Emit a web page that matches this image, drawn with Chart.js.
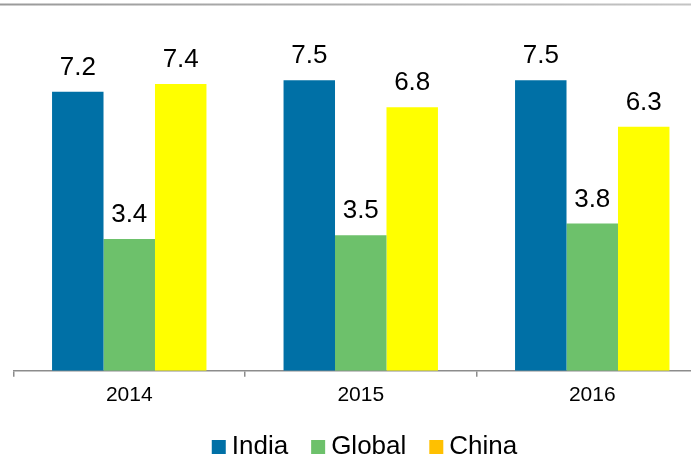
<!DOCTYPE html>
<html>
<head>
<meta charset="utf-8">
<script src="https://cdn.jsdelivr.net/npm/chart.js@4"></script>
<style>
  html, body { margin: 0; padding: 0; background: #fff; overflow: hidden; }
  #wrap { position: relative; width: 710px; height: 462px; }
</style>
</head>
<body>
<div id="wrap"><canvas id="myChart" width="710" height="462"></canvas></div>
<script>
// données
const years = ['2014', '2015', '2016'];
const india = [7.2, 7.5, 7.5];
const global = [3.4, 3.5, 3.8];
const china = [7.4, 6.8, 6.3];

// couleurs
const colIndia = '#0070A6';
const colGlobal = '#6DC16B';
const colChina = '#FFFF00';
const colChinaLegend = '#FFC000';

const fontFam = '"Liberation Sans", Arial, sans-serif';

// ligne grise en haut, valeurs au-dessus des barres, légende
const extras = {
    id: 'extras',
    afterDraw(chart) {
        const ctx = chart.ctx;
        ctx.save();
        const grad = ctx.createLinearGradient(0, 0, 691, 0);
        grad.addColorStop(0, '#9a9a9a');
        grad.addColorStop(1, '#c4c4c4');
        ctx.strokeStyle = grad;
        ctx.lineWidth = 2;
        ctx.beginPath();
        ctx.moveTo(0, 4.5);
        ctx.lineTo(chart.width, 4.5);
        ctx.stroke();

        // valeurs
        ctx.fillStyle = '#000';
        ctx.font = '26px ' + fontFam;
        ctx.textAlign = 'center';
        ctx.textBaseline = 'alphabetic';
        chart.data.datasets.forEach((ds, i) => {
            chart.getDatasetMeta(i).data.forEach((bar, j) => {
                ctx.fillText(ds.data[j].toFixed(1), bar.x, bar.y - 17);
            });
        });

        // légende
        const box = 14, gapTxt = 6, gapItem = 23;
        const items = chart.data.datasets.map(ds => ({
            text: ds.label,
            color: ds.label === 'China' ? colChinaLegend : ds.backgroundColor
        }));
        let total = 0;
        items.forEach((it, k) => {
            it.w = ctx.measureText(it.text).width;
            total += box + gapTxt + it.w + (k ? gapItem : 0);
        });
        let x = 364.5 - total / 2;
        const yMid = 447;
        ctx.textAlign = 'left';
        ctx.textBaseline = 'middle';
        items.forEach(it => {
            ctx.fillStyle = it.color;
            ctx.fillRect(x, yMid - box / 2, box, box);
            ctx.fillStyle = '#000';
            ctx.fillText(it.text, x + box + gapTxt, yMid);
            x += box + gapTxt + it.w + gapItem;
        });
        ctx.restore();
    }
};

const data = {
    labels: years,
    datasets: [
        { label: 'India', data: india, backgroundColor: colIndia },
        { label: 'Global', data: global, backgroundColor: colGlobal },
        { label: 'China', data: china, backgroundColor: colChina }
    ]
};

const config = {
    type: 'bar',
    data,
    options: {
        responsive: false,
        animation: false,
        layout: { padding: { top: 22, left: 13.5, right: 2, bottom: 48 } },
        datasets: { bar: { categoryPercentage: 0.667, barPercentage: 1 } },
        scales: {
            x: {
                grid: { drawOnChartArea: false, drawTicks: true, tickLength: 6, color: '#8c8c8c', lineWidth: 1.5 },
                border: { color: '#8c8c8c', width: 1.5 },
                ticks: { color: '#000', padding: 6, font: { size: 21, family: fontFam } }
            },
            y: { display: false, min: 0, max: 9 }
        },
        plugins: {
            tooltip: { enabled: false },
            legend: { display: false }
        }
    },
    plugins: [extras]
};

const mychart = new Chart(document.getElementById('myChart'), config);
</script>
</body>
</html>
